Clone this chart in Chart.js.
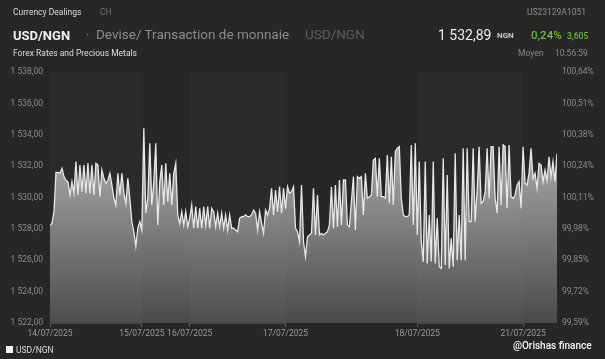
<!DOCTYPE html>
<html><head><meta charset="utf-8">
<script src="https://cdn.jsdelivr.net/npm/chart.js@4/dist/chart.umd.min.js"></script>
<style>
html,body{margin:0;padding:0;background:#272727;width:605px;height:359px;overflow:hidden;font-family:Roboto,'Noto Sans',sans-serif;}
#wrap{position:relative;width:605px;height:359px;}
canvas{position:absolute;left:0;top:0;}
.t{position:absolute;white-space:nowrap;line-height:1;}
</style></head><body>
<div id="wrap">
<canvas id="c" width="605" height="359"></canvas>
<span class="t" style="left:13px;top:7.5px;font-size:8.5px;color:#d8d8d8">Currency Dealings</span>
<span class="t" style="left:100px;top:7.5px;font-size:8.5px;color:#6e6e6e">CH</span>
<span class="t" style="right:19px;top:7.5px;font-size:8.5px;color:#8e8e8e">US23129A1051</span>
<span class="t" style="left:13px;top:28.5px;font-size:13px;font-weight:bold;color:#f0f0f0">USD/NGN</span>
<span class="t" style="left:86px;top:28px;font-size:13px;color:#888">·</span>
<span class="t" style="left:96px;top:28px;font-size:13.5px;color:#8c8c8c">Devise/ Transaction de monnaie</span>
<span class="t" style="left:305px;top:28px;font-size:13.5px;color:#5c5c5c">USD/NGN</span>
<span class="t" style="left:438px;top:28px;font-size:14px;color:#eeeeee">1 532,89</span>
<span class="t" style="left:497px;top:32px;font-size:8px;font-weight:bold;color:#c8c8c8">NGN</span>
<span class="t" style="left:531px;top:29.5px;font-size:11.5px;font-weight:500;color:#72b83c">0,24%</span>
<span class="t" style="left:567px;top:31.5px;font-size:8.5px;font-weight:500;color:#72b83c">3,605</span>
<span class="t" style="left:13px;top:48.5px;font-size:8.5px;color:#dcdcdc">Forex Rates and Precious Metals</span>
<span class="t" style="left:518px;top:48.5px;font-size:8.5px;color:#888">Moyen</span>
<span class="t" style="left:555px;top:48.5px;font-size:8.5px;color:#888">10:56:59</span>
<span class="t" style="left:6px;top:346px;width:7px;height:7px;background:#f4f4f4"></span>
<span class="t" style="left:16px;top:346px;font-size:8.5px;color:#dcdcdc">USD/NGN</span>
<span class="t" style="left:513px;top:341px;font-size:10px;font-weight:500;color:#f4f4f4">@Orishas finance</span>
</div>
<script>
// Data: USD/NGN values per trading day
const day14 = [1528.25,1528.35,1529.1,1531.6,1531.6,1531.55,1531.86,1531.33,1531.1,1531.0,
  1530.16,1531.0,1530.27,1532.29,1530.16,1532.07,1530.37,1532.07,1530.27,1532.18,
  1530.27,1532.07,1530.16,1532.18,1532.07,1530.05,1531.75,1531.22,1530.9,1531.1,
  1531.54,1530.8,1529.95,1529.52,1531.54,1530.16,1531.54,1530.27,1529.63,1531.22,
  1529.95,1528.46,1527.82,1526.9,1528.04,1528.46];
const day15 = [1527.93,1534.41,1529.0,1529.95,1533.45,1529.52,1531.0,1533.45,1528.25,1531.0,
  1532.07,1529.52,1532.18,1529.74,1531.54,1529.52,1531.54,1532.18,1528.89,1528.35,
  1529.1,1528.25,1529.1,1528.14];
const day16 = [1528.67,1529.52,1528.04,1529.42,1528.04,1529.31,1528.04,1529.42,1528.25,1529.42,
  1528.04,1529.31,1529.1,1528.14,1529.0,1528.14,1529.0,1528.04,1528.89,1527.93,
  1528.89,1528.04,1528.04,1527.93,1527.82,1528.67,1528.78,1528.78,1528.89,1528.78,
  1528.78,1528.89,1529.2,1529.0,1527.93,1529.1,1528.35,1527.72,1529.2,1528.89,
  1529.31,1530.59,1528.89,1530.48,1529.1,1530.69,1529.0,1530.59];
const day17 = [1529.31,1530.69,1530.27,1530.37,1530.69,1528.04,1527.82,1527.18,1530.8,1527.18,
  1526.23,1527.5,1527.61,1527.72,1530.59,1527.61,1530.16,1527.61,1527.72,1527.61,
  1527.72,1527.82,1528.25,1530.69,1528.04,1530.8,1528.14,1531.12,1528.25,1531.12,
  1531.12,1528.25,1528.14,1529.74,1531.33,1527.93,1531.33,1531.22,1531.33,1528.89,
  1531.54,1529.95,1530.05,1530.16,1532.39,1532.5,1530.05,1532.5,1530.05,1530.05,
  1529.95,1532.71,1529.63,1532.6,1529.52,1532.92,1533.14,1533.24,1529.95,1528.89,
  1528.78,1528.78,1528.89,1533.35,1528.25,1533.45];
const day18 = [1527.61,1532.29,1527.18,1525.91,1532.29,1525.8,1528.89,1525.91,1532.29,1525.8,
  1528.67,1525.59,1525.48,1532.5,1525.7,1531.43,1525.48,1527.4,1525.59,1532.82,
  1526.0,1528.89,1526.0,1533.14,1526.0,1533.14,1528.46,1528.46,1533.14,1528.46,
  1530.48,1533.24,1529.63,1529.74,1530.37,1533.14,1529.95,1533.24,1533.24,1529.95,
  1529.0,1533.24,1529.52,1533.35,1533.24,1529.31,1533.35,1530.05,1529.95,1530.16,
  1530.8,1531.01,1529.31];
const day21 = [1533.24,1530.9,1530.8,1531.54,1533.14,1531.22,1531.54,1530.59,1532.18,1532.07,
  1531.01,1531.75,1531.1,1532.6,1531.33,1532.29,1531.01,1532.8];

const dayLabels = ['14/07/2025','15/07/2025','16/07/2025','17/07/2025','18/07/2025','21/07/2025'];
const leftTicks = [1522,1524,1526,1528,1530,1532,1534,1536,1538];
const rightTickLabels = ['99,59%','99,72%','99,85%','99,98%','100,11%','100,24%','100,38%','100,51%','100,64%'];
const seriesName = 'USD/NGN';

const dayValues = [day14,day15,day16,day17,day18,day21];
const series = [].concat(...dayValues);
const dayStarts = [];
let acc = 0;
dayValues.forEach(d => { dayStarts.push(acc); acc += d.length; });
const lastIndex = series.length - 1;
const points = series.map((v,i) => ({x:i, y:v}));

function fmt(v){
  const p = v.toFixed(2).split('.');
  return p[0].replace(/\B(?=(\d{3})+$)/g,' ') + ',' + p[1];
}

const bands = {
  id:'bands',
  afterDatasetsDraw(chart){
    const {ctx, chartArea:a, scales:{x}} = chart;
    ctx.save();
    dayStarts.forEach((s,k) => {
      if (k % 2) return;
      const e = k+1 < dayStarts.length ? dayStarts[k+1] : lastIndex;
      const x0 = x.getPixelForValue(s), x1 = x.getPixelForValue(e);
      ctx.fillStyle = 'rgba(255,255,255,0.018)';
      ctx.fillRect(x0, a.top, x1-x0, a.bottom-a.top);
      ctx.fillStyle = '#484848';
      ctx.fillRect(x0, a.bottom-1, x1-x0, 2);
    });
    ctx.restore();
  }
};

new Chart(document.getElementById('c'), {
  type:'line',
  data:{datasets:[{
    label: seriesName,
    data: points,
    borderColor:'#e8e8e8',
    borderWidth:1.3,
    pointRadius:0,
    tension:0,
    fill:'start',
    backgroundColor:(ctx)=>{
      const a = ctx.chart.chartArea;
      if(!a) return '#888';
      const g = ctx.chart.ctx.createLinearGradient(0,a.top,0,a.bottom);
      g.addColorStop(0,'#d2d2d2');
      g.addColorStop(1,'#4a4a4a');
      return g;
    }
  }]},
  options:{
    responsive:false,
    devicePixelRatio:1,
    animation:false,
    layout:{padding:{top:72,left:0,right:0,bottom:0}},
    plugins:{legend:{display:false},tooltip:{enabled:false}},
    scales:{
      x:{
        type:'linear', min:0, max:lastIndex,
        afterBuildTicks:(s)=>{ s.ticks = dayStarts.map(v=>({value:v})); },
        afterFit:(s)=>{ s.height = 36; },
        ticks:{autoSkip:false, maxRotation:0, padding:2, color:'#9a9a9a',
          font:{family:'Roboto', size:8.5},
          callback:(v)=> dayLabels[dayStarts.indexOf(v)] },
        grid:{drawOnChartArea:false, tickLength:4, color:'#5a5a5a'},
        border:{display:false}
      },
      y:{
        position:'left', min:1522, max:1538,
        afterBuildTicks:(s)=>{ s.ticks = leftTicks.map(v=>({value:v})); },
        afterFit:(s)=>{ s.width = 50; },
        ticks:{padding:7, color:'#8a8a8a', font:{family:'Roboto', size:8.5}, callback:(v)=>fmt(v)},
        grid:{display:false, drawTicks:false},
        border:{display:false}
      },
      y2:{
        position:'right', min:1522, max:1538,
        afterBuildTicks:(s)=>{ s.ticks = leftTicks.map(v=>({value:v})); },
        afterFit:(s)=>{ s.width = 48; },
        ticks:{padding:5, color:'#8a8a8a', font:{family:'Roboto', size:8.5}, callback:(v,i)=>rightTickLabels[i]},
        grid:{display:false, drawTicks:false},
        border:{display:false}
      }
    }
  },
  plugins:[bands]
});
</script>
</body></html>
